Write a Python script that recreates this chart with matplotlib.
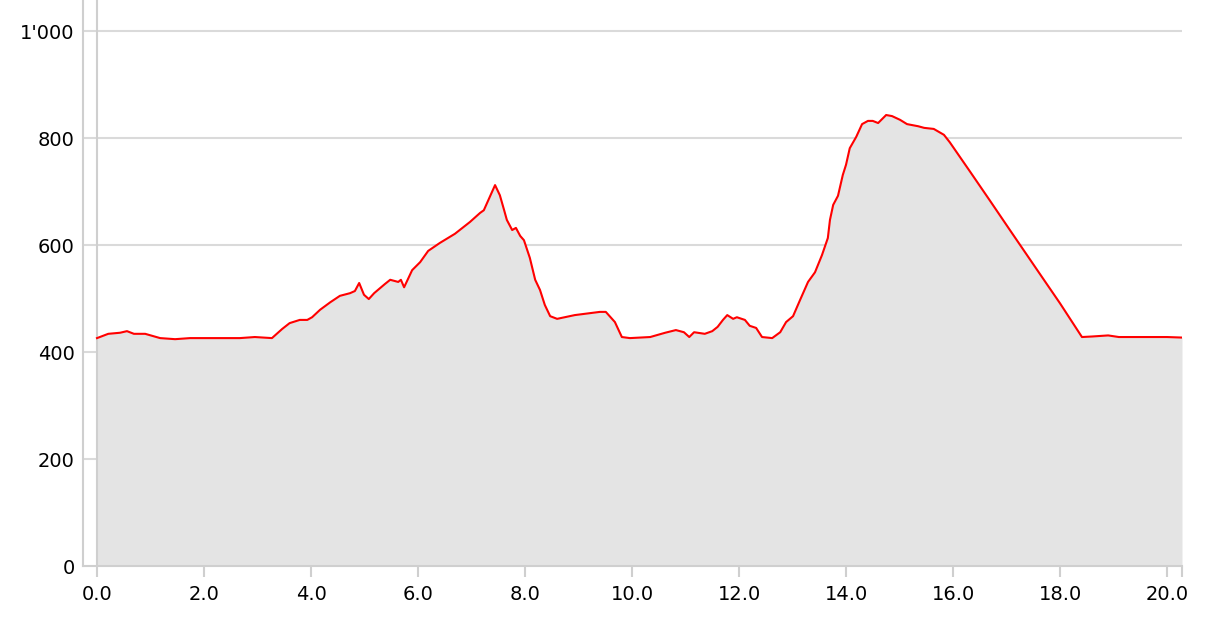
import numpy as np
import matplotlib.pyplot as plt
from matplotlib.ticker import FuncFormatter

# Elevation profile (distance in km, elevation in m)
dist_km = [0.0, 0.21, 0.43, 0.56, 0.69, 0.9, 1.18, 1.46, 1.74, 2.0, 2.3, 2.67, 2.95, 3.27,
           3.46, 3.6, 3.79, 3.93, 4.02, 4.17, 4.36, 4.54, 4.73, 4.82, 4.9, 4.99, 5.08, 5.18,
           5.38, 5.48, 5.63, 5.68, 5.74, 5.89, 6.04, 6.19, 6.41, 6.69, 6.97, 7.16, 7.23,
           7.44, 7.53, 7.61, 7.66, 7.76, 7.83, 7.91, 7.98, 8.09, 8.19, 8.28, 8.37, 8.47,
           8.6, 8.93, 9.4, 9.51, 9.68, 9.81, 9.96, 10.34, 10.62, 10.82, 10.97, 11.07,
           11.16, 11.36, 11.5, 11.6, 11.7, 11.78, 11.89, 11.96, 12.11, 12.2, 12.32, 12.43,
           12.62, 12.77, 12.88, 13.01, 13.14, 13.29, 13.42, 13.55, 13.66, 13.7, 13.76,
           13.85, 13.94, 14.0, 14.07, 14.19, 14.3, 14.41, 14.5, 14.6, 14.75, 14.86, 15.01,
           15.14, 15.35, 15.46, 15.64, 15.83, 15.94, 16.32, 16.69, 17.07, 17.35, 17.63,
           18.0, 18.41, 18.6, 18.9, 19.1, 19.5, 20.0, 20.28]
elev_m = [426, 434, 436, 439, 434, 434, 426, 424, 426, 426, 426, 426, 428, 426,
          443, 454, 460, 460, 465, 479, 493, 505, 510, 514, 529, 507, 499, 510,
          527, 535, 531, 535, 521, 553, 568, 589, 604, 621, 643, 660, 665,
          712, 693, 665, 647, 628, 632, 617, 609, 576, 535, 516, 488, 467,
          462, 469, 475, 475, 456, 428, 426, 428, 436, 441, 437, 428,
          437, 434, 439, 447, 460, 469, 462, 465, 460, 449, 445, 428,
          426, 437, 456, 467, 497, 531, 549, 581, 613, 647, 675,
          692, 731, 750, 781, 802, 826, 832, 832, 828, 843, 841, 834,
          826, 822, 819, 817, 806, 792, 737, 683, 627, 586, 545,
          491, 428, 429, 431, 428, 428, 428, 427]

x_ticks = [0, 2, 4, 6, 8, 10, 12, 14, 16, 18, 20]
y_ticks = [0, 200, 400, 600, 800, 1000]

grid_col = "#dadada"
axis_col = "#cfcfcf"

fig = plt.figure(figsize=(12.15, 6.21), dpi=100)
ax = fig.add_axes([83 / 1215, 55 / 621, 1099 / 1215, 566 / 621])

ax.fill_between(dist_km, 0, elev_m, color="#e4e4e4", lw=0, zorder=1)
ax.plot(dist_km, elev_m, color="red", lw=1.5, zorder=3)

ax.set_xlim(-0.262, dist_km[-1])
ax.set_ylim(0, 1058)

ax.set_yticks(y_ticks)
ax.set_xticks(x_ticks)
ax.set_xticks([dist_km[-1]], minor=True)
ax.yaxis.set_major_formatter(FuncFormatter(lambda v, p: f"{int(v):,}".replace(",", "'")))
ax.xaxis.set_major_formatter(FuncFormatter(lambda v, p: f"{v:.1f}"))

for y in y_ticks[1:]:
    ax.axhline(y, color=grid_col, lw=1.5, zorder=0)
ax.axvline(0, color=axis_col, lw=1.5, zorder=2)

for s in ["top", "right"]:
    ax.spines[s].set_visible(False)
for s in ["left", "bottom"]:
    ax.spines[s].set_color(axis_col)
    ax.spines[s].set_linewidth(1.5)
    ax.spines[s].set_zorder(4)

ax.tick_params(axis="y", length=0, pad=6, labelsize=14)
ax.tick_params(axis="x", which="both", length=8, width=1.5, color=axis_col, pad=6, labelsize=14)

fig.savefig("out.png", dpi=100)
